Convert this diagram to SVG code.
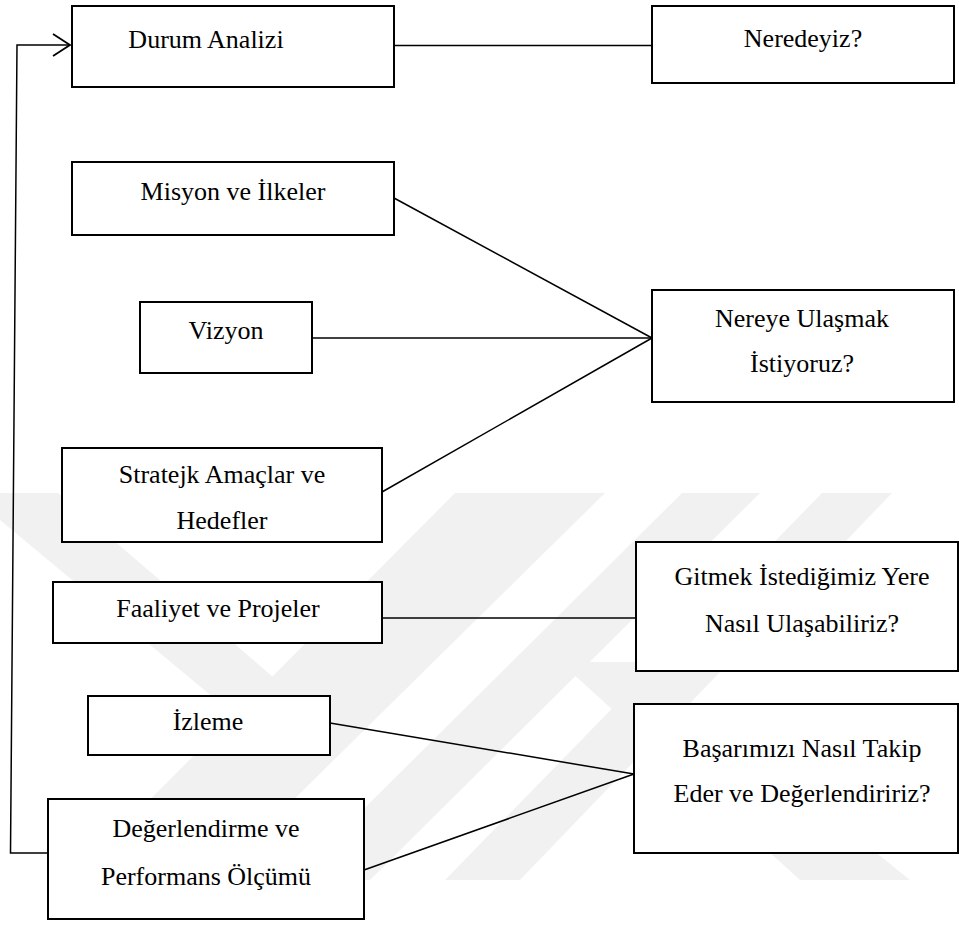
<svg xmlns="http://www.w3.org/2000/svg" width="959" height="930" viewBox="0 0 959 930">
  <style>
    .box { fill: #ffffff; stroke: #000000; stroke-width: 2; }
    .lbl { font-size: 26px; fill: #000000; text-anchor: middle; }
    .link { fill: none; stroke: #000000; stroke-width: 1.5; }
    .mark { fill: #f1f1f1; stroke: none; }
  </style>
  <defs>
    <marker id="openArrow" markerUnits="userSpaceOnUse" markerWidth="20" markerHeight="26" refX="18" refY="12" orient="auto">
      <path d="M1,1 L18,12 L1,23" fill="none" stroke="#000000" stroke-width="1.8"/>
    </marker>
  </defs>

  <rect width="959" height="930" fill="#ffffff"/>

  <!-- faint background emblem -->
  <g id="emblem">
    <polygon class="mark" points="0,493 58,493 300,700 262,738 0,520"/>
    <polygon class="mark" points="455,493 605,493 212,880 70,880"/>
    <polygon class="mark" points="682,493 760,493 370,880 292,880"/>
    <polygon class="mark" points="822,493 892,493 520,880 445,880"/>
    <polygon class="mark" points="560,662 640,662 910,880 800,880"/>
  </g>

  <!-- connectors -->
  <g id="connectors">
    <line class="link" x1="394" y1="45.5" x2="652" y2="45.5" stroke-width="1.2"/>
    <line class="link" x1="394" y1="198" x2="652" y2="338"/>
    <line class="link" x1="312" y1="338" x2="652" y2="338"/>
    <line class="link" x1="382" y1="492" x2="652" y2="338"/>
    <line class="link" x1="382" y1="618" x2="636" y2="618" stroke-width="1.2"/>
    <line class="link" x1="330" y1="723" x2="634" y2="774"/>
    <line class="link" x1="364" y1="870" x2="634" y2="774"/>
    <polyline class="link" points="48,853 10.5,853 17,45 70,45" marker-end="url(#openArrow)"/>
  </g>

  <!-- nodes -->
  <g id="nodes" font-family="Liberation Serif, DejaVu Serif, serif">
    <g id="durum-analizi">
      <rect class="box" x="72" y="6" width="322" height="81"/>
      <text class="lbl" x="206" y="48">Durum Analizi</text>
    </g>
    <g id="neredeyiz">
      <rect class="box" x="652" y="6" width="302" height="77"/>
      <text class="lbl" x="803" y="47">Neredeyiz?</text>
    </g>
    <g id="misyon">
      <rect class="box" x="72" y="162" width="322" height="73"/>
      <text class="lbl" x="233" y="200">Misyon ve İlkeler</text>
    </g>
    <g id="vizyon">
      <rect class="box" x="140" y="302" width="172" height="71"/>
      <text class="lbl" x="226" y="339">Vizyon</text>
    </g>
    <g id="nereye">
      <rect class="box" x="652" y="290" width="302" height="112"/>
      <text class="lbl" x="802" y="327">Nereye Ulaşmak</text>
      <text class="lbl" x="802" y="372">İstiyoruz?</text>
    </g>
    <g id="stratejik">
      <rect class="box" x="62" y="448" width="320" height="94"/>
      <text class="lbl" x="222" y="483">Stratejk Amaçlar ve</text>
      <text class="lbl" x="222" y="529">Hedefler</text>
    </g>
    <g id="faaliyet">
      <rect class="box" x="53" y="582" width="329" height="61"/>
      <text class="lbl" x="218" y="617">Faaliyet ve Projeler</text>
    </g>
    <g id="gitmek">
      <rect class="box" x="636" y="542" width="322" height="129"/>
      <text class="lbl" x="802" y="585">Gitmek İstediğimiz Yere</text>
      <text class="lbl" x="802" y="632">Nasıl Ulaşabiliriz?</text>
    </g>
    <g id="izleme">
      <rect class="box" x="88" y="696" width="242" height="59"/>
      <text class="lbl" x="208" y="730">İzleme</text>
    </g>
    <g id="basari">
      <rect class="box" x="634" y="704" width="324" height="149"/>
      <text class="lbl" x="802" y="757">Başarımızı Nasıl Takip</text>
      <text class="lbl" x="802" y="802">Eder ve Değerlendiririz?</text>
    </g>
    <g id="degerlendirme">
      <rect class="box" x="48" y="799" width="316" height="120"/>
      <text class="lbl" x="206" y="837">Değerlendirme ve</text>
      <text class="lbl" x="206" y="885">Performans Ölçümü</text>
    </g>
  </g>
</svg>
